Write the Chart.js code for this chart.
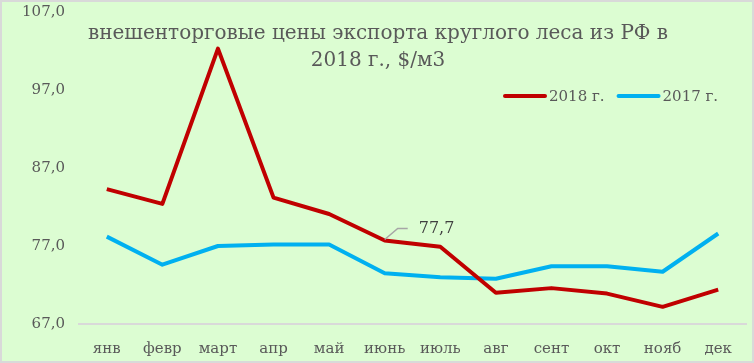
<!DOCTYPE html>
<html>
<head>
<meta charset="utf-8">
<script src="https://cdn.jsdelivr.net/npm/chart.js@4"></script>
<style>
  html, body { margin: 0; padding: 0; background: #ffffff; }
  .wrap {
    width: 754px; height: 363px; box-sizing: border-box;
    border: 2px solid #d9d9d9; background: #dcfdd2;
  }
  canvas { display: block; }
</style>
</head>
<body>
<div class="wrap"><canvas id="chart-line" width="750" height="359"></canvas></div>
<script>
const months = ["янв", "февр", "март", "апр", "май", "июнь", "июль", "авг", "сент", "окт", "нояб", "дек"];
const prices2018 = [84.3, 82.4, 102.3, 83.2, 81.1, 77.7, 76.9, 71.0, 71.6, 70.9, 69.2, 71.4];
const prices2017 = [78.2, 74.6, 77.0, 77.2, 77.2, 73.5, 73.0, 72.8, 74.4, 74.4, 73.7, 78.6];
const titleLines = ["внешенторговые цены экспорта круглого леса из РФ в", "2018 г., $/м3"];
const labeledPoint = 5;

const FONT = "'DejaVu Serif', 'Liberation Serif', serif";
const TEXT_COLOR = "#595959";

const fmt = (v) => v.toFixed(1).replace(".", ",");

const overlayPlugin = {
  id: "overlay",
  afterDatasetsDraw(chart) {
    const ctx = chart.ctx;
    ctx.save();

    // title
    ctx.fillStyle = TEXT_COLOR;
    ctx.font = "20px " + FONT;
    ctx.textAlign = "center";
    ctx.textBaseline = "middle";
    ctx.fillText(titleLines[0], 376, 32);
    ctx.fillText(titleLines[1], 376, 59);

    // legend
    ctx.font = "15px " + FONT;
    ctx.textAlign = "left";
    let x = 503;
    chart.data.datasets.forEach((ds) => {
      ctx.strokeStyle = ds.borderColor;
      ctx.lineWidth = 4;
      ctx.lineCap = "round";
      ctx.beginPath();
      ctx.moveTo(x, 94);
      ctx.lineTo(x + 40, 94);
      ctx.stroke();
      ctx.fillText(ds.label, x + 44, 95);
      x += 44 + ctx.measureText(ds.label).width + 14;
    });

    // data label with leader line
    const pt = chart.getDatasetMeta(0).data[labeledPoint];
    ctx.strokeStyle = "#a6a6a6";
    ctx.lineWidth = 1.5;
    ctx.lineCap = "butt";
    ctx.beginPath();
    ctx.moveTo(pt.x, pt.y - 1);
    ctx.lineTo(pt.x + 13, pt.y - 12);
    ctx.lineTo(pt.x + 23, pt.y - 12);
    ctx.stroke();
    ctx.fillStyle = "#404040";
    ctx.font = "16px " + FONT;
    ctx.fillText(fmt(prices2018[labeledPoint]), pt.x + 34, pt.y - 12);

    ctx.restore();
  },
};

new Chart(document.getElementById("chart-line"), {
  type: "line",
  data: {
    labels: months,
    datasets: [
      {
        label: "2018 г.",
        data: prices2018,
        borderColor: "#c00000",
        borderWidth: 4,
        pointRadius: 0,
        tension: 0,
        borderJoinStyle: "round",
      },
      {
        label: "2017 г.",
        data: prices2017,
        borderColor: "#00b0f0",
        borderWidth: 4,
        pointRadius: 0,
        tension: 0,
        borderJoinStyle: "round",
      },
    ],
  },
  options: {
    responsive: false,
    animation: false,
    layout: { padding: { top: 10, right: 6, left: 0, bottom: 0 } },
    plugins: {
      legend: { display: false },
      title: { display: false },
      tooltip: { enabled: false },
    },
    scales: {
      x: {
        offset: true,
        grid: { display: false, drawTicks: false },
        border: { display: true, color: "#d9d9d9", width: 2 },
        ticks: {
          color: TEXT_COLOR,
          font: { family: FONT, size: 15 },
          padding: 16,
          maxRotation: 0,
          autoSkip: false,
        },
        afterFit(scale) { scale.height = 37; },
      },
      y: {
        min: 67,
        max: 107,
        grid: { display: false, drawTicks: false },
        border: { display: false },
        ticks: {
          stepSize: 10,
          color: TEXT_COLOR,
          font: { family: FONT, size: 15 },
          padding: 14,
          callback: (v) => fmt(v),
        },
        afterFit(scale) {
          scale.width = 77;
          scale.paddingTop = 0;
          scale.paddingBottom = 0;
        },
      },
    },
  },
  plugins: [overlayPlugin],
});
</script>
</body>
</html>
